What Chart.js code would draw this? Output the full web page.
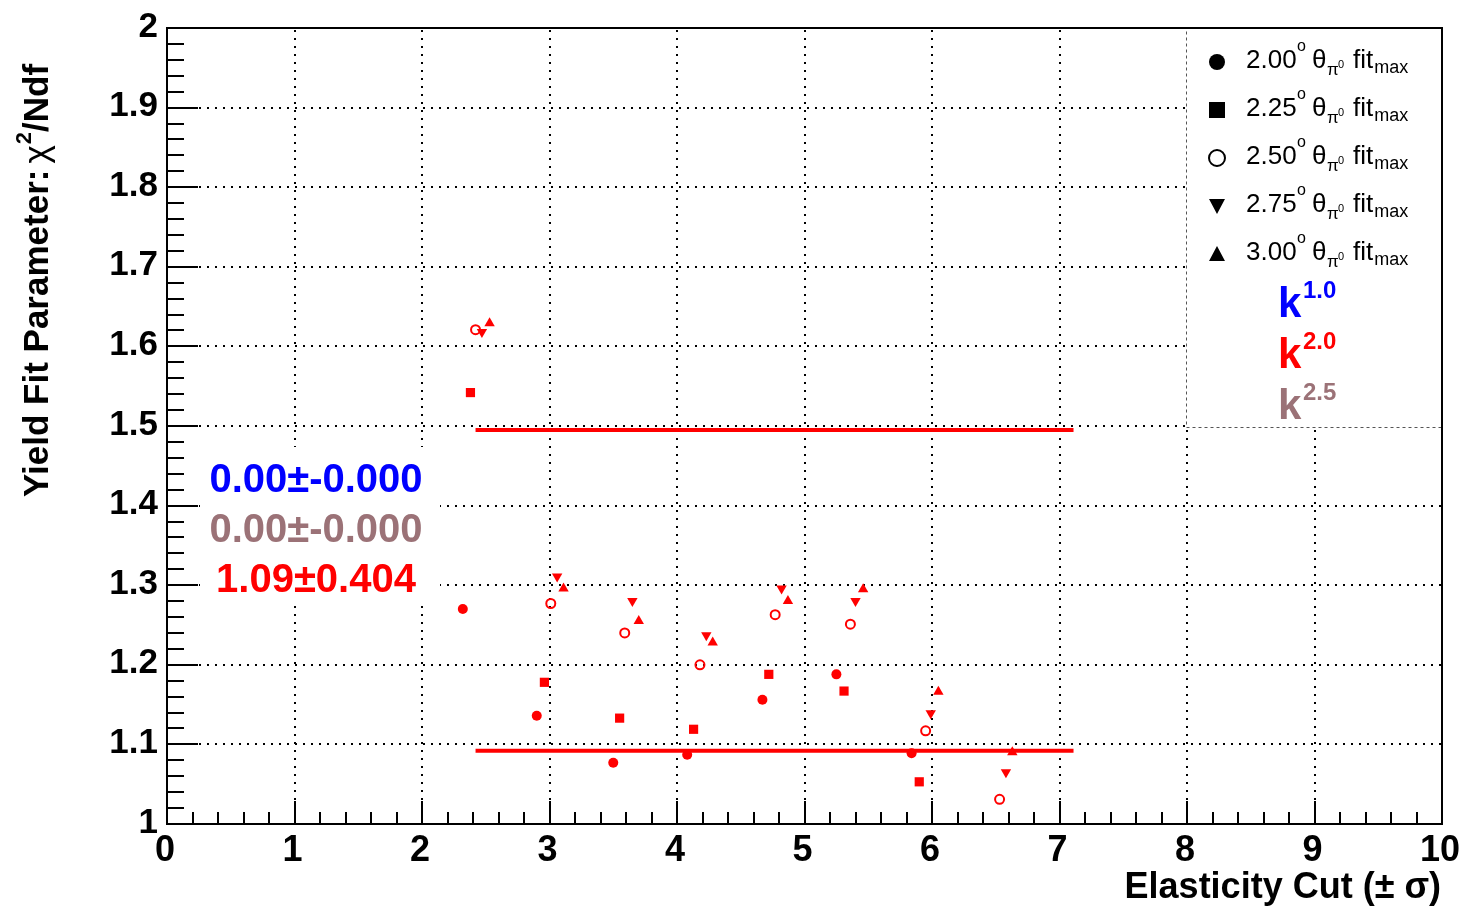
<!DOCTYPE html>
<html>
<head>
<meta charset="utf-8">
<script src="https://cdn.jsdelivr.net/npm/chart.js@4.4.1/dist/chart.umd.min.js"></script>
<style>
  html, body { margin: 0; padding: 0; background: #fff; }
  canvas { display: block; }
</style>
</head>
<body>
<canvas id="chart" width="1465" height="907"></canvas>
<script>
// values, one group of markers per cut, each theta series slightly shifted
const theta200X = [2.32, 2.90, 3.50, 4.08, 4.67, 5.25, 5.84];
const theta200Y = [1.270, 1.136, 1.077, 1.087, 1.156, 1.188, 1.089];
const theta225X = [2.38, 2.96, 3.55, 4.13, 4.72, 5.31, 5.90];
const theta225Y = [1.542, 1.178, 1.133, 1.119, 1.188, 1.167, 1.053];
const theta250X = [2.42, 3.01, 3.59, 4.18, 4.77, 5.36, 5.95, 6.53];
const theta250Y = [1.621, 1.277, 1.240, 1.200, 1.263, 1.251, 1.117, 1.031];
const theta275X = [2.47, 3.06, 3.65, 4.23, 4.82, 5.40, 5.99, 6.58];
const theta275Y = [1.618, 1.311, 1.280, 1.237, 1.296, 1.280, 1.139, 1.065];
const theta300X = [2.53, 3.11, 3.70, 4.28, 4.87, 5.46, 6.05, 6.63];
const theta300Y = [1.629, 1.296, 1.255, 1.228, 1.280, 1.295, 1.166, 1.090];

const bandX = [2.42, 7.11];
const bandUpper = 1.495;
const bandLower = 1.092;

const xTicks = [0, 1, 2, 3, 4, 5, 6, 7, 8, 9, 10];
const yTicks = [1, 1.1, 1.2, 1.3, 1.4, 1.5, 1.6, 1.7, 1.8, 1.9, 2];
const legendLabels = ['2.00', '2.25', '2.50', '2.75', '3.00'];
const fitTexts = ['0.00\u00b1-0.000', '0.00\u00b1-0.000', '1.09\u00b10.404'];
const powerLabels = ['1.0', '2.0', '2.5'];

const RED = '#ff0000';
const BLUE = '#0000ff';
const MAUVE = '#9b7277';
const FONT = '"Liberation Sans", Arial, Helvetica, sans-serif';

function toPoints(xs, ys) {
    return xs.map((x, i) => ({ x: x, y: ys[i] }));
}

function drawMarker(ctx, kind, x, y) {
    ctx.save();
    ctx.fillStyle = '#000';
    ctx.strokeStyle = '#000';
    ctx.lineWidth = 2;
    ctx.beginPath();
    if (kind === 0) {
        ctx.arc(x, y, 8, 0, Math.PI * 2);
        ctx.fill();
    } else if (kind === 1) {
        ctx.rect(x - 8, y - 8, 16, 16);
        ctx.fill();
    } else if (kind === 2) {
        ctx.arc(x, y, 8, 0, Math.PI * 2);
        ctx.stroke();
    } else if (kind === 3) {
        ctx.moveTo(x - 8, y - 7);
        ctx.lineTo(x + 8, y - 7);
        ctx.lineTo(x, y + 8);
        ctx.closePath();
        ctx.fill();
    } else {
        ctx.moveTo(x - 8, y + 7);
        ctx.lineTo(x + 8, y + 7);
        ctx.lineTo(x, y - 8);
        ctx.closePath();
        ctx.fill();
    }
    ctx.restore();
}

const rootStyle = {
    id: 'rootStyle',
    beforeDatasetsDraw(chart) {
        const ctx = chart.ctx;
        const area = chart.chartArea;
        const xs = chart.scales.x;
        const ys = chart.scales.y;

        // dotted grid
        ctx.save();
        ctx.strokeStyle = '#000';
        ctx.lineWidth = 2;
        ctx.setLineDash([2, 6]);
        xTicks.forEach(v => {
            const px = Math.round(xs.getPixelForValue(v));
            ctx.beginPath();
            ctx.moveTo(px, area.bottom);
            ctx.lineTo(px, area.top);
            ctx.stroke();
        });
        yTicks.forEach(v => {
            const py = Math.round(ys.getPixelForValue(v));
            ctx.beginPath();
            ctx.moveTo(area.left, py);
            ctx.lineTo(area.right, py);
            ctx.stroke();
        });
        ctx.restore();

        // fit result box
        ctx.save();
        ctx.fillStyle = '#fff';
        ctx.fillRect(200, 447, 240, 156);
        ctx.font = 'bold 40px ' + FONT;
        ctx.textAlign = 'center';
        ctx.textBaseline = 'alphabetic';
        const fitColors = [BLUE, MAUVE, RED];
        fitTexts.forEach((t, i) => {
            ctx.fillStyle = fitColors[i];
            ctx.fillText(t, 316, 492 + i * 50);
        });
        ctx.restore();

        // legend box
        ctx.save();
        ctx.fillStyle = '#fff';
        ctx.fillRect(1186, 28, 255, 399);
        ctx.strokeStyle = '#555';
        ctx.lineWidth = 1;
        ctx.setLineDash([3, 3]);
        ctx.strokeRect(1186.5, 28.5, 255, 399);
        ctx.setLineDash([]);
        ctx.fillStyle = '#000';
        ctx.textAlign = 'left';
        ctx.textBaseline = 'alphabetic';
        legendLabels.forEach((lab, i) => {
            const b = 68 + i * 48;
            drawMarker(ctx, i, 1217, b - 6);
            ctx.font = '26px ' + FONT;
            ctx.fillText(lab, 1246, b);
            ctx.font = '16px ' + FONT;
            ctx.fillText('o', 1297, b - 17);
            ctx.font = '26px ' + FONT;
            ctx.fillText('\u03b8', 1312, b);
            ctx.font = '17px ' + FONT;
            ctx.fillText('\u03c0', 1327, b + 7);
            ctx.font = '11px ' + FONT;
            ctx.fillText('0', 1338, b);
            ctx.font = '26px ' + FONT;
            ctx.fillText('fit', 1353, b);
            const fitEnd = 1353 + ctx.measureText('fit').width + 1;
            ctx.font = '18px ' + FONT;
            ctx.fillText('max', fitEnd, b + 5);
        });
        const powerColors = [BLUE, RED, MAUVE];
        powerLabels.forEach((p, i) => {
            const b = 317 + i * 51;
            ctx.fillStyle = powerColors[i];
            ctx.font = 'bold 42px ' + FONT;
            ctx.fillText('k', 1278, b);
            ctx.font = 'bold 24px ' + FONT;
            ctx.fillText(p, 1303, b - 19);
        });
        ctx.restore();
    },
    afterDraw(chart) {
        const ctx = chart.ctx;
        const area = chart.chartArea;
        const xs = chart.scales.x;
        const ys = chart.scales.y;

        ctx.save();
        ctx.strokeStyle = '#000';
        ctx.lineWidth = 2;
        ctx.strokeRect(area.left, area.top, area.right - area.left, area.bottom - area.top);

        // x ticks, major every 1, minor every 0.2
        ctx.beginPath();
        for (let i = 0; i <= 50; i++) {
            const px = Math.round(xs.getPixelForValue(i * 0.2));
            const len = (i % 5 === 0) ? 23 : 12;
            ctx.moveTo(px, area.bottom);
            ctx.lineTo(px, area.bottom - len);
        }
        // y ticks, major every 0.1, minor every 0.02
        for (let i = 0; i <= 50; i++) {
            const py = Math.round(ys.getPixelForValue(1 + i * 0.02));
            const len = (i % 5 === 0) ? 31 : 17;
            ctx.moveTo(area.left, py);
            ctx.lineTo(area.left + len, py);
        }
        ctx.stroke();

        ctx.fillStyle = '#000';
        ctx.font = 'bold 36px ' + FONT;
        ctx.textAlign = 'center';
        ctx.textBaseline = 'alphabetic';
        xTicks.forEach(v => {
            ctx.fillText(String(v), xs.getPixelForValue(v) - 2, 861);
        });
        ctx.font = 'bold 35px ' + FONT;
        ctx.textAlign = 'right';
        ctx.textBaseline = 'middle';
        yTicks.forEach(v => {
            const lab = (v === 1 || v === 2) ? String(v) : v.toFixed(1);
            ctx.fillText(lab, 158, ys.getPixelForValue(v) - 1);
        });

        // x title
        ctx.textBaseline = 'alphabetic';
        ctx.textAlign = 'right';
        ctx.font = 'bold 36px ' + FONT;
        ctx.fillText('Elasticity Cut (\u00b1 \u03c3)', 1441, 898);

        // y title, rotated
        ctx.translate(48, 497);
        ctx.rotate(-Math.PI / 2);
        ctx.textAlign = 'left';
        let cx = 0;
        ctx.font = 'bold 35px ' + FONT;
        ctx.fillText('Yield Fit Parameter:', cx, 0);
        cx += ctx.measureText('Yield Fit Parameter:').width + 6;
        ctx.font = '35px ' + FONT;
        ctx.fillText('\u03c7', cx, 0);
        cx += ctx.measureText('\u03c7').width + 1;
        ctx.font = 'bold 22px ' + FONT;
        ctx.fillText('2', cx, -17);
        cx += ctx.measureText('2').width;
        ctx.font = 'bold 35px ' + FONT;
        ctx.fillText('/Ndf', cx, 0);
        ctx.restore();
    }
};

new Chart(document.getElementById('chart'), {
    type: 'scatter',
    data: {
        datasets: [
            {
                label: '2.00',
                data: toPoints(theta200X, theta200Y),
                pointStyle: 'circle',
                pointRadius: 5,
                backgroundColor: RED,
                borderColor: RED,
                borderWidth: 0,
                order: 1
            },
            {
                label: '2.25',
                data: toPoints(theta225X, theta225Y),
                pointStyle: 'rect',
                pointRadius: 6.5,
                backgroundColor: RED,
                borderColor: RED,
                borderWidth: 0,
                order: 1
            },
            {
                label: '2.50',
                data: toPoints(theta250X, theta250Y),
                pointStyle: 'circle',
                pointRadius: 4.5,
                backgroundColor: 'rgba(0,0,0,0)',
                borderColor: RED,
                borderWidth: 2,
                order: 1
            },
            {
                label: '2.75',
                data: toPoints(theta275X, theta275Y),
                pointStyle: 'triangle',
                rotation: 180,
                pointRadius: 6,
                backgroundColor: RED,
                borderColor: RED,
                borderWidth: 0,
                order: 1
            },
            {
                label: '3.00',
                data: toPoints(theta300X, theta300Y),
                pointStyle: 'triangle',
                pointRadius: 6,
                backgroundColor: RED,
                borderColor: RED,
                borderWidth: 0,
                order: 1
            },
            {
                label: 'upper',
                data: bandX.map(x => ({ x: x, y: bandUpper })),
                showLine: true,
                pointRadius: 0,
                borderColor: RED,
                borderWidth: 4,
                order: 5
            },
            {
                label: 'lower',
                data: bandX.map(x => ({ x: x, y: bandLower })),
                showLine: true,
                pointRadius: 0,
                borderColor: RED,
                borderWidth: 4,
                order: 5
            }
        ]
    },
    options: {
        responsive: false,
        animation: false,
        devicePixelRatio: 1,
        layout: { padding: { left: 167, top: 28, right: 23, bottom: 83 } },
        plugins: {
            legend: { display: false },
            title: { display: false },
            tooltip: { enabled: false }
        },
        scales: {
            x: { type: 'linear', min: 0, max: 10, display: false },
            y: { type: 'linear', min: 1, max: 2, display: false }
        }
    },
    plugins: [rootStyle]
});
</script>
</body>
</html>
